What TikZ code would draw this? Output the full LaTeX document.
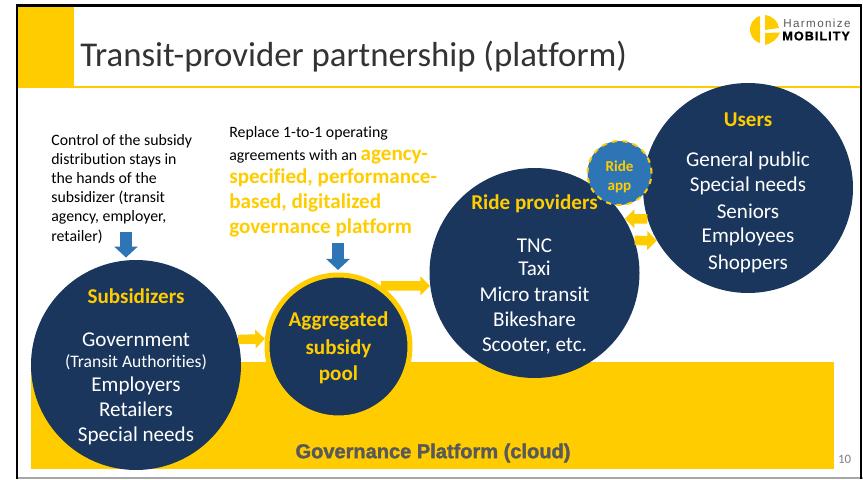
\documentclass[tikz,border=0pt]{standalone}
\usepackage{fontspec}
\setmainfont[Ligatures=NoCommon]{Carlito}
\newfontfamily\platformfont[BoldFeatures={FakeBold=1.6}]{Liberation Sans}
\newfontfamily\logofont[LetterSpace=12,BoldFeatures={LetterSpace=8,FakeBold=1.2}]{Liberation Sans}
\usetikzlibrary{arrows.meta}

\definecolor{navy}{HTML}{1A365D}
\definecolor{gold}{HTML}{FFCC00}
\definecolor{appblue}{HTML}{2E75B6}
\definecolor{slate}{HTML}{595959}

\tikzset{
    bigcircle/.style={circle, fill=navy, text=white, minimum size=4.2cm, inner sep=0pt, align=center, text depth=0pt, font=\fontsize{12}{14}\selectfont},
    goldarrow/.style={draw=gold, line width=0.19cm, -{Triangle[length=0.19cm,width=0.37cm]}},
    bluearrow/.style={draw=appblue, line width=0.25cm, shorten >=0.05cm, -{Triangle[length=0.22cm,width=0.46cm]}},
    note/.style={anchor=north west, inner sep=0pt, align=left, font=\fontsize{9}{10.8}\selectfont},
}
\newcommand{\headtext}[1]{\textcolor{gold}{\bfseries #1}}
\newcommand{\bigyellow}[1]{\textcolor{gold}{\bfseries\fontsize{12}{13}\selectfont #1}}

\begin{document}
\begin{tikzpicture}
    \useasboundingbox (0,0) rectangle (17.26,9.58);

    % slide frame
    \fill[gold] (0.36,7.82) rectangle (1.48,9.44);
    \draw[gold, line width=0.05cm] (1.48,7.84) -- (17.2,7.84);
    \draw[gray!70, line width=0.04cm] (0.34,0.02) -- (17.26,0.02);
    \draw[line width=0.05cm] (0.34,0) -- (0.34,9.47) -- (17.22,9.47) -- (17.22,0);

    \node[anchor=west, inner sep=0pt, font=\fontsize{19.8}{22}\selectfont, text=black!80] (title) at (1.6,8.44) {Transit-provider partnership (platform)};

    % logo
    \fill[gold] (15.2,9.26) arc (105:255:0.27 and 0.28) -- cycle;
    \fill[gold] (15.3,9.28) .. controls (15.45,9.26) and (15.56,9.16) .. (15.58,9.02) -- (15.3,8.98) -- cycle;
    \fill[gold] (15.3,8.92) -- (15.6,8.93) .. controls (15.55,8.8) and (15.45,8.72) .. (15.3,8.68) -- cycle;
    \node[inner sep=0pt, anchor=west, text=slate, font=\logofont\fontsize{6.6}{7}\selectfont] (logotop) at (15.66,9.12) {Harmonize};
    \node[inner sep=0pt, anchor=west, text=black, font=\logofont\bfseries\fontsize{7.2}{7}\selectfont] (logobottom) at (15.64,8.86) {MOBILITY};

    % governance platform
    \fill[gold] (0.62,0.2) rectangle (16.68,2.34);
    \node[text=slate, inner sep=0pt, font=\platformfont\bfseries\fontsize{11.4}{12}\selectfont] (platform) at (8.66,0.52) {Governance Platform (cloud)};
    \node[text=gray, inner sep=0pt, font=\fontsize{7.3}{8}\selectfont] (pagenum) at (16.89,0.4) {10};

    % notes
    \node[note] (subsidynote) at (1.02,6.9) {Control of the subsidy\\distribution stays in\\the hands of the\\subsidizer (transit\\agency, employer,\\[0.6pt]retailer)};
    \node[note, font=\fontsize{9}{13}\selectfont] (platformnote) at (4.58,7.06) {Replace 1-to-1 operating\\agreements with an \bigyellow{agency-}\\\bigyellow{specified, performance-}\\[1.7pt]\bigyellow{based, digitalized}\\[1.2pt]\bigyellow{governance platform}};

    % circles
    \node[bigcircle] (subsidizers) at (2.72,2.28) {\headtext{Subsidizers}\\[10.3pt]Government\\[-1.8pt]{\fontsize{10}{14}\selectfont (Transit Authorities)}\\[-0.4pt]Employers\\[0.2pt]Retailers\\[0.2pt]Special needs};
    \node[circle, fill=navy, draw=gold, line width=0.1cm, minimum size=2.86cm, inner sep=0pt, align=center, text depth=0pt, font=\bfseries\fontsize{12}{15.5}\selectfont, text=gold] (pool) at (6.77,2.65) {Aggregated\\[0.4pt]subsidy\\[-0.6pt]pool};
    \node[bigcircle] (users) at (14.96,5.82) {\rule{0pt}{11.2pt}\headtext{Users}\\[9pt]General public\\Special needs\\[1.3pt]Seniors\\[-0.4pt]Employees\\[1.3pt]Shoppers};
    \node[bigcircle] (riders) at (10.69,4.12) {\headtext{Ride providers}\\[10.3pt]TNC\\[-0.7pt]Taxi\\[1pt]Micro transit\\[-0.2pt]Bikeshare\\[0.4pt]Scooter, etc.};
    \node[circle, fill=appblue, draw=gold, dashed, line width=0.04cm, minimum size=1.28cm, inner sep=0pt, align=center, text depth=0pt, text=gold, font=\bfseries\fontsize{8.6}{10.8}\selectfont] (rideapp) at (12.39,6.12) {\rule{0pt}{9pt}Ride\\app};

    % flows
    \draw[goldarrow] (subsidizers.14) -- (pool.174);
    \draw[goldarrow] (pool.55) -- (riders.187);
    \draw[goldarrow] (users.197) -- (riders.31);
    \draw[goldarrow] (riders.18) -- (users.210);

    \coordinate (subsidytop) at (2.52,4.94);
    \coordinate (pooltop) at (6.76,4.72);
    \draw[bluearrow] (subsidytop) -- (subsidytop |- subsidizers.95);
    \draw[bluearrow] (pooltop) -- (pooltop |- pool.north);
\end{tikzpicture}
\end{document}
